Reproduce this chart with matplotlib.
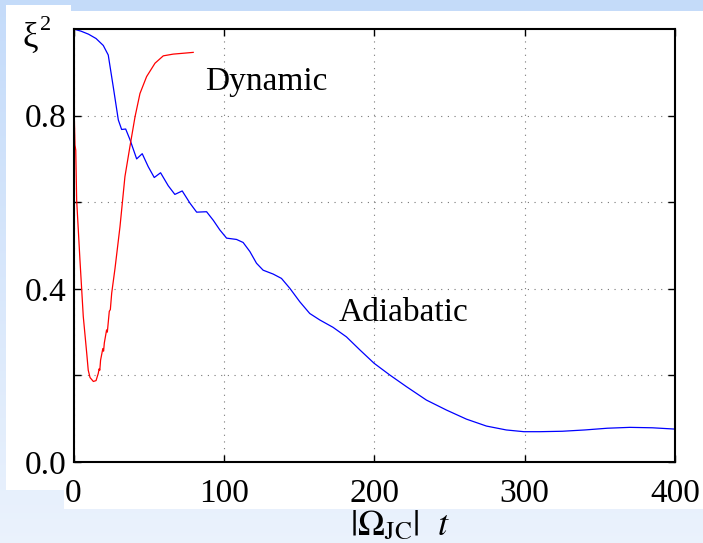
import numpy as np
import matplotlib as mpl
import matplotlib.pyplot as plt
from matplotlib.patches import Rectangle

mpl.rcParams['font.family'] = ['Liberation Serif', 'DejaVu Serif']
mpl.rcParams['mathtext.fontset'] = 'stix'

# adiabatic curve (blue)
blue_t = [0, 5, 10, 15, 19.8, 23.1, 26.5, 29.8, 32, 34.7, 37.5, 42, 45.7, 49.7,
          53.7, 57.9, 63, 67.4, 72.3, 77.4, 81.9, 88.5, 93, 97.3, 101.8, 108.4,
          112.8, 117.3, 121.7, 126.1, 132.8, 138.3, 143.9, 150.5, 157.1, 163.8,
          172.6, 181.5, 190.4, 199.9, 210.3, 221.4, 234.7, 248, 261.3, 274.6,
          287.8, 299.5, 310, 325, 340, 355, 370, 385, 400]
blue_v = [1.0, 0.995, 0.988, 0.978, 0.962, 0.940, 0.865, 0.790, 0.768, 0.769,
          0.745, 0.700, 0.712, 0.682, 0.657, 0.668, 0.638, 0.618, 0.626, 0.598,
          0.577, 0.578, 0.558, 0.536, 0.517, 0.514, 0.507, 0.486, 0.459, 0.443,
          0.434, 0.424, 0.401, 0.370, 0.343, 0.328, 0.311, 0.289, 0.259, 0.228,
          0.201, 0.174, 0.143, 0.120, 0.099, 0.083, 0.074, 0.070, 0.070, 0.071,
          0.074, 0.078, 0.080, 0.079, 0.076]

# dynamic curve (red)
red_t = [0, 0.5, 1, 1.5, 2.1, 4.3, 6.5, 8.8, 9.8, 11, 13.2, 15, 16.5, 17, 17.5,
         18, 19.5, 20, 20.5, 22, 22.5, 23.8, 24.5, 25.4, 27.6, 30.9, 34.2, 37.5,
         40.9, 44.2, 48.6, 54.2, 59.7, 66.3, 73, 79.6]
red_v = [0.924, 0.80, 0.732, 0.72, 0.605, 0.466, 0.336, 0.251, 0.212, 0.195,
         0.186, 0.188, 0.205, 0.215, 0.212, 0.235, 0.262, 0.256, 0.275, 0.305,
         0.300, 0.348, 0.352, 0.390, 0.447, 0.543, 0.659, 0.728, 0.797, 0.851,
         0.890, 0.921, 0.938, 0.942, 0.944, 0.946]

x_ticks = [0, 100, 200, 300, 400]
y_ticks = [0.0, 0.2, 0.4, 0.6, 0.8]
y_labels = ['0.0', '', '0.4', '', '0.8']

W, H = 703, 543
fig = plt.figure(figsize=(W / 100, H / 100), dpi=100)

# light blue gradient background
bg = fig.add_axes([0, 0, 1, 1], zorder=-10)
top = np.array([0.77, 0.86, 0.98])
bot = np.array([0.92, 0.95, 0.99])
g = np.linspace(0, 1, 256)[:, None]
img = top[None, None, :] * (1 - g[:, :, None]) + bot[None, None, :] * g[:, :, None]
img = np.repeat(img, 2, axis=1)
bg.imshow(img, aspect='auto', extent=[0, 1, 0, 1])
bg.axis('off')

# white panels
def px_rect(x0, y0, x1, y1):
    return Rectangle((x0 / W, 1 - y1 / H), (x1 - x0) / W, (y1 - y0) / H,
                     transform=fig.transFigure, facecolor='white',
                     edgecolor='none', zorder=-5)

fig.patches.append(px_rect(6, 5, 71, 490))
fig.patches.append(px_rect(64, 11, 703, 509))

ax = fig.add_axes([73.5 / W, 1 - 462 / H, (675 - 73.5) / W, (462 - 29) / H])
ax.plot(blue_t, blue_v, color='#0000ff', lw=0.9)
ax.plot(red_t, red_v, color='#ff0000', lw=0.9)

ax.set_xlim(0, 400)
ax.set_ylim(0, 1.0)
ax.set_xticks(x_ticks)
ax.set_yticks(y_ticks)
ax.set_yticklabels(y_labels)
ax.grid(True, color='#777777', linestyle=(0, (1, 5)), linewidth=0.8)
ax.tick_params(direction='in', length=5, width=1, top=True, right=True,
               labelsize=24)
ax.tick_params(axis='x', pad=12)
ax.tick_params(axis='y', pad=5)
for s in ax.spines.values():
    s.set_linewidth(1.5)

ax.text(87.4, 0.859, 'Dynamic', fontsize=24)
ax.text(176.4, 0.326, 'Adiabatic', fontsize=24)

fig.text(22 / W, 1 - 47 / H, '\u03be', fontsize=25, ha='left', va='baseline')
fig.text(40 / W, 1 - 30 / H, '2', fontsize=16, ha='left', va='baseline')
fig.text(400 / W, 1 - 535 / H, r'$|\Omega_{\rm JC}|\ \ t$', fontsize=26,
         ha='center', va='baseline')

fig.savefig('out.png', dpi=100)
